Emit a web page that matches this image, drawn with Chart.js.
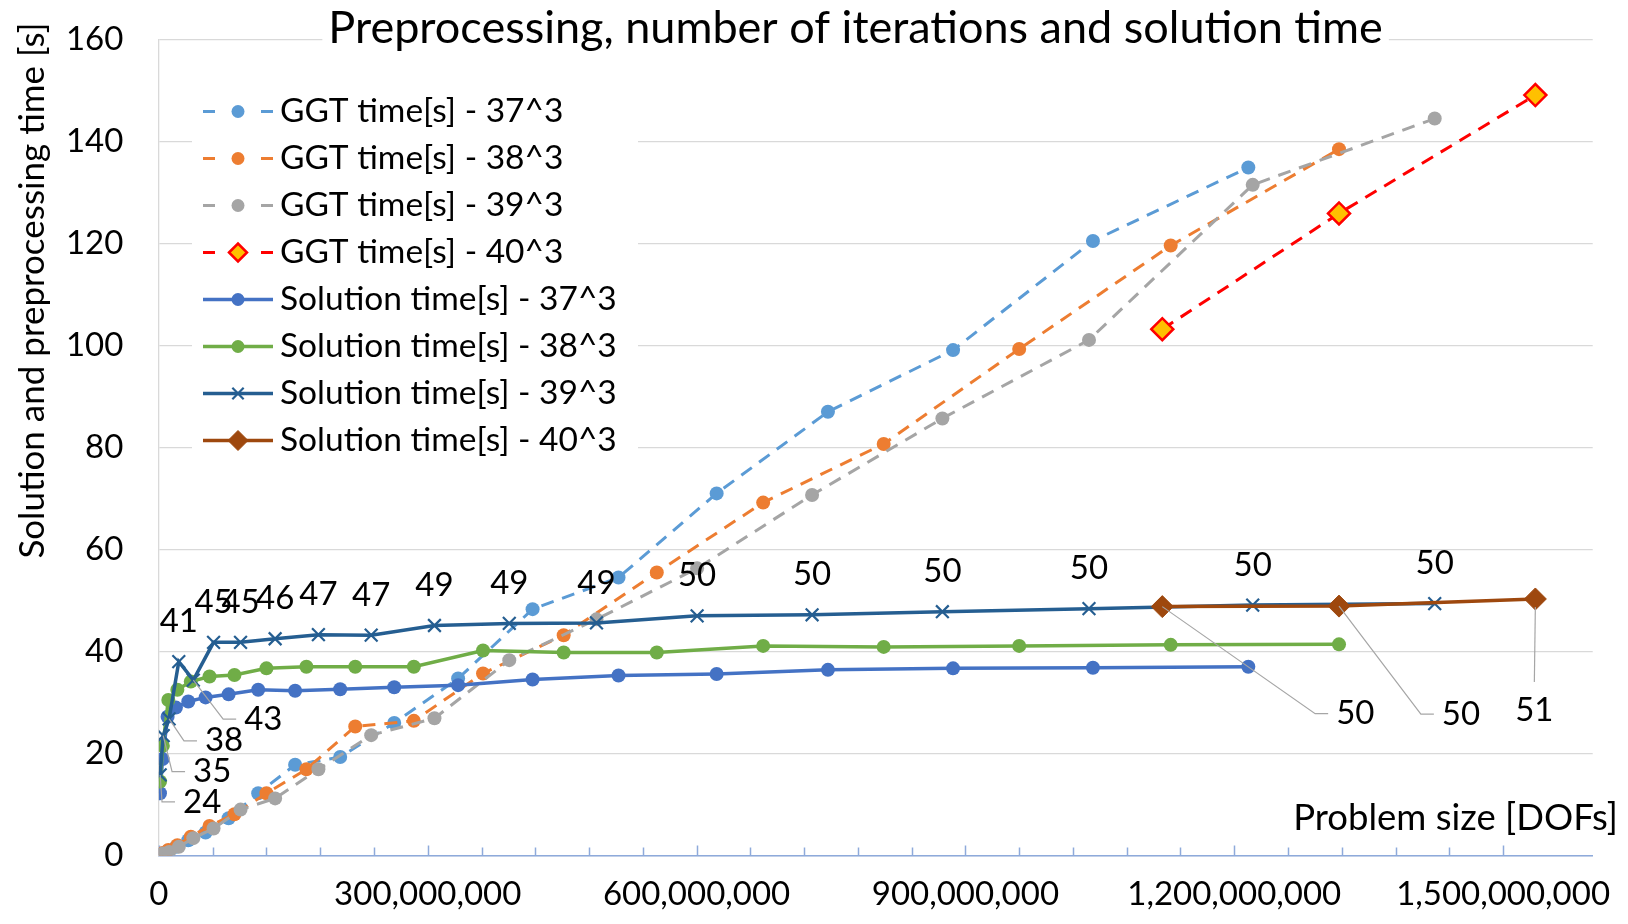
<!DOCTYPE html>
<html>
<head>
<meta charset="utf-8">
<title>Preprocessing, number of iterations and solution time</title>
<script src="https://cdn.jsdelivr.net/npm/chart.js@4.4.1/dist/chart.umd.min.js"></script>
<style>
  html, body { margin: 0; padding: 0; background: #fff; }
  #wrap { width: 1628px; height: 924px; }
</style>
</head>
<body>
<div id="wrap"><canvas id="chart" width="1628" height="924"></canvas></div>
<script>
// ---------- data (problem size in millions of DOFs, times in seconds) ----------
const dofs37 = [1.2, 4.1, 9.7, 19.0, 32.8, 52.1, 77.8, 110.8, 152.0, 202.3, 262.6, 333.9, 417.0, 512.9, 622.4, 746.6, 886.2, 1042.3, 1215.7];
const dofs38 = [1.3, 4.4, 10.5, 20.6, 35.6, 56.5, 84.3, 120.0, 164.6, 219.1, 284.5, 361.7, 451.7, 555.6, 674.3, 808.8, 960.0, 1129.1, 1316.9];
const dofs39 = [1.4, 4.8, 11.4, 22.2, 38.4, 61.0, 91.1, 129.7, 178.0, 236.9, 307.5, 391.0, 488.3, 600.6, 728.9, 874.3, 1037.9, 1220.6, 1423.7];
const dofs40 = [1119.7, 1316.9, 1536.0];

const ggt37 = [0.1, 0.4, 0.9, 1.7, 3.0, 4.5, 7.3, 12.2, 17.8, 19.3, 26.0, 34.7, 48.3, 54.5, 71.0, 87.0, 99.1, 120.5, 134.9];
const ggt38 = [0.1, 0.5, 1.1, 2.0, 3.7, 5.8, 8.1, 12.2, 16.9, 25.3, 26.4, 35.7, 43.2, 55.5, 69.2, 80.7, 99.3, 119.6, 138.5];
const ggt39 = [0.1, 0.4, 0.7, 1.7, 3.4, 5.3, 9.0, 11.2, 16.9, 23.6, 26.9, 38.3, 46.3, 56.3, 70.7, 85.7, 101.1, 131.5, 144.5];
const ggt40 = [103.2, 125.9, 149.1];

const sol37 = [12.2, 18.9, 27.2, 29.0, 30.2, 31.0, 31.6, 32.5, 32.3, 32.6, 33.0, 33.4, 34.5, 35.3, 35.6, 36.4, 36.7, 36.8, 37.0];
const sol38 = [14.5, 21.5, 30.5, 32.5, 34.1, 35.1, 35.4, 36.7, 37.0, 37.0, 37.0, 40.2, 39.8, 39.8, 41.1, 40.9, 41.1, 41.3, 41.4];
const sol39 = [15.8, 23.5, 26.8, 38.0, 34.4, 41.8, 41.8, 42.5, 43.3, 43.2, 45.1, 45.5, 45.6, 47.0, 47.2, 47.8, 48.4, 49.1, 49.4];
const sol40 = [48.8, 48.9, 50.3];

// iteration counts shown as data labels
const iter39 = [24, 35, 38, 41, 43, 45, 45, 46, 47, 47, 49, 49, 49, 50, 50, 50, 50, 50, 50];
const iter40 = [50, 50, 51];

const xMajorStep = 300;   // labelled ticks (millions)
const xMinorStep = 60;
const yTickStep = 20;

const FONT = 'Lato';
const TXT = '#000';

function pts(xs, ys) { return xs.map((x, i) => ({ x, y: ys[i] })); }

function ggtSet(label, xs, ys, color, extra) {
    return Object.assign({
        label, data: pts(xs, ys),
        borderColor: color, backgroundColor: color, borderWidth: 3, borderDash: [13, 9],
        pointStyle: 'circle', pointRadius: 7, pointBackgroundColor: color, pointBorderWidth: 0,
        legendRadius: 6.5
    }, extra || {});
}
function solSet(label, xs, ys, color, extra) {
    return Object.assign({
        label, data: pts(xs, ys),
        borderColor: color, backgroundColor: color, borderWidth: 3.5,
        pointStyle: 'circle', pointRadius: 7, pointBackgroundColor: color, pointBorderWidth: 0,
        legendRadius: 6.5
    }, extra || {});
}

const datasets = [
    ggtSet('GGT time[s] - 37^3', dofs37, ggt37, '#5B9BD5'),
    ggtSet('GGT time[s] - 38^3', dofs38, ggt38, '#ED7D31'),
    ggtSet('GGT time[s] - 39^3', dofs39, ggt39, '#A5A5A5'),
    ggtSet('GGT time[s] - 40^3', dofs40, ggt40, '#FF0000', {
        pointStyle: 'rectRot', pointRadius: 11, pointBackgroundColor: '#FFC000',
        pointBorderColor: '#FF0000', pointBorderWidth: 2.5, legendRadius: 9
    }),
    solSet('Solution time[s] - 37^3', dofs37, sol37, '#4472C4'),
    solSet('Solution time[s] - 38^3', dofs38, sol38, '#70AD47'),
    solSet('Solution time[s] - 39^3', dofs39, sol39, '#255E91', {
        pointStyle: 'crossRot', pointRadius: 9, pointBorderColor: '#255E91', pointBorderWidth: 2.2,
        legendRadius: 8,
        iterations: iter39,
        callouts: { 0: [42, 27], 1: [49, 36], 2: [55, 22], 4: [70, 39] }
    }),
    solSet('Solution time[s] - 40^3', dofs40, sol40, '#9E480E', {
        pointStyle: 'rectRot', pointRadius: 11, pointBorderColor: '#9E480E', pointBorderWidth: 1,
        legendRadius: 10,
        iterations: iter40,
        callouts: { 0: [193, 107], 1: [122, 108], 2: [-1, 111] }
    })
];
// Excel draws later series on top
datasets.forEach((d, i) => { d.order = datasets.length - i; d.tension = 0; d.fill = false; });

// ---------- decorations ----------
const decor = {
    id: 'decor',
    beforeDatasetsDraw(chart) {
        const { ctx, chartArea } = chart;
        const xs = chart.scales.x;
        ctx.save();

        // x tick marks, pointing up into the plot
        ctx.strokeStyle = '#8EAADB';
        ctx.lineWidth = 1.5;
        xs.ticks.forEach(t => {
            if (t.value % xMinorStep !== 0) return;
            const px = Math.round(xs.getPixelForValue(t.value)) + 0.5;
            const len = t.value % xMajorStep === 0 ? 10 : 8;
            ctx.beginPath();
            ctx.moveTo(px, chartArea.bottom);
            ctx.lineTo(px, chartArea.bottom - len);
            ctx.stroke();
        });

        // title (white box hides the top gridline)
        const title = 'Preprocessing, number of iterations and solution time';
        ctx.font = `45px ${FONT}`;
        const tw = ctx.measureText(title).width;
        ctx.fillStyle = '#fff';
        ctx.fillRect(855.6 - tw / 2 - 6, 0, tw + 12, 58);
        ctx.fillStyle = TXT;
        ctx.textAlign = 'center';
        ctx.textBaseline = 'middle';
        ctx.fillText(title, 855.6, 28);

        // legend
        ctx.fillStyle = '#fff';
        ctx.fillRect(192, 85, 446, 380);
        chart.data.datasets.forEach((ds, i) => {
            const y = 111.5 + i * 47;
            ctx.save();
            ctx.strokeStyle = ds.borderColor;
            ctx.lineWidth = ds.borderWidth;
            ctx.beginPath();
            if (ds.borderDash) {
                ctx.moveTo(203, y); ctx.lineTo(215, y);
                ctx.moveTo(261, y); ctx.lineTo(273, y);
            } else {
                ctx.moveTo(203, y); ctx.lineTo(273, y);
            }
            ctx.stroke();
            ctx.fillStyle = ds.pointBackgroundColor;
            ctx.strokeStyle = ds.pointBorderColor || ds.borderColor;
            ctx.lineWidth = ds.pointBorderWidth;
            Chart.helpers.drawPoint(ctx, {
                pointStyle: ds.pointStyle, radius: ds.legendRadius, rotation: 0,
                borderWidth: ds.pointBorderWidth
            }, 238, y);
            ctx.restore();
            ctx.fillStyle = TXT;
            ctx.font = `33.5px ${FONT}`;
            ctx.textAlign = 'left';
            ctx.textBaseline = 'middle';
            ctx.fillText(ds.label, 280, y);
        });

        // axis titles
        ctx.fillStyle = TXT;
        ctx.font = `36.5px ${FONT}`;
        ctx.textAlign = 'right';
        ctx.textBaseline = 'middle';
        ctx.fillText('Problem size [DOFs]', 1618, 818);

        ctx.save();
        ctx.font = `35px ${FONT}`;
        ctx.translate(33, 290.6);
        ctx.rotate(-Math.PI / 2);
        ctx.textAlign = 'center';
        ctx.fillText('Solution and preprocessing time [s]', 0, 0);
        ctx.restore();

        ctx.restore();
    },
    afterDatasetsDraw(chart) {
        const ctx = chart.ctx;
        ctx.save();
        ctx.font = `33px ${FONT}`;
        ctx.textAlign = 'center';
        ctx.textBaseline = 'middle';
        chart.data.datasets.forEach((ds, di) => {
            if (!ds.iterations) return;
            const meta = chart.getDatasetMeta(di);
            meta.data.forEach((pt, i) => {
                const text = String(ds.iterations[i]);
                const call = ds.callouts && ds.callouts[i];
                const off = call || [0, -40];
                const lx = pt.x + off[0], ly = pt.y + off[1];
                if (call) {
                    const w = ctx.measureText(text).width;
                    ctx.strokeStyle = '#A6A6A6';
                    ctx.lineWidth = 1.2;
                    ctx.beginPath();
                    if (Math.abs(off[0]) < w / 2) {
                        ctx.moveTo(lx, ly - 28);
                        ctx.lineTo(pt.x, pt.y + 8);
                    } else {
                        const ex = lx - w / 2 - 8;
                        ctx.moveTo(ex, ly);
                        ctx.lineTo(ex - 13, ly);
                        ctx.lineTo(pt.x, pt.y);
                    }
                    ctx.stroke();
                }
                ctx.fillStyle = TXT;
                ctx.fillText(text, lx, ly);
            });
        });
        ctx.restore();
    }
};

function draw() {
    new Chart(document.getElementById('chart'), {
        type: 'line',
        data: { datasets },
        options: {
            responsive: false,
            animation: false,
            layout: { padding: { left: 0, top: 39.5, right: 35.3, bottom: 0 } },
            plugins: { legend: { display: false }, title: { display: false }, tooltip: { enabled: false } },
            scales: {
                x: {
                    type: 'linear', min: 0, max: 1600,
                    grid: { drawOnChartArea: false, drawTicks: false },
                    border: { color: '#8EAADB', width: 1.5 },
                    ticks: {
                        stepSize: xMinorStep, maxTicksLimit: 100, autoSkip: false, maxRotation: 0, minRotation: 0,
                        padding: 19, color: TXT, font: { family: FONT, size: 33 },
                        callback: v => (v % xMajorStep === 0 ? (v * 1e6).toLocaleString('en-US') : '')
                    },
                    afterFit: s => { s.height = 68.5; }
                },
                y: {
                    min: 0, max: 160,
                    // invisible tick marks give the label gap without adding vertical padding
                    grid: { color: '#D9D9D9', lineWidth: 1.3, drawTicks: true, tickLength: 35.6, tickColor: 'rgba(0,0,0,0)' },
                    border: { color: '#D9D9D9', width: 1.3 },
                    ticks: { stepSize: yTickStep, padding: 0, color: TXT, font: { family: FONT, size: 33 } },
                    afterFit: s => { s.width = 158.9; }
                }
            }
        },
        plugins: [decor]
    });
}

if (document.fonts && document.fonts.load) {
    Promise.all([document.fonts.load(`33px ${FONT}`), document.fonts.load(`45px ${FONT}`)]).then(draw, draw);
} else {
    draw();
}
</script>
</body>
</html>
